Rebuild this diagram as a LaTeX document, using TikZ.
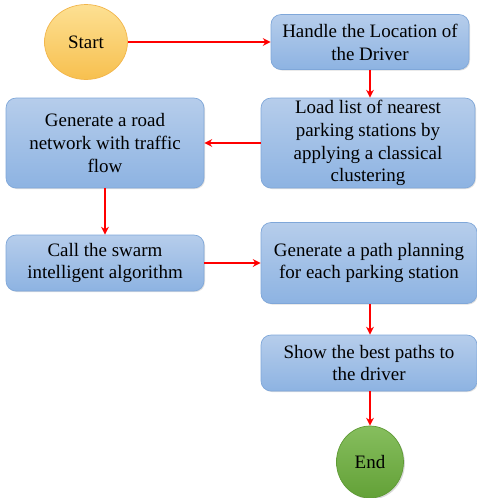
\documentclass[tikz,border=0pt]{standalone}
\usepackage{fontspec}
\setmainfont{Liberation Serif}
\usetikzlibrary{shapes,shadows,arrows.meta}

\definecolor{boxtop}{HTML}{B6CDEB}
\definecolor{boxbottom}{HTML}{8DB3E2}
\definecolor{boxline}{HTML}{7FA7D9}
\definecolor{starttop}{HTML}{FDE093}
\definecolor{startbottom}{HTML}{F7C04F}
\definecolor{startline}{HTML}{F2B54A}
\definecolor{endtop}{HTML}{86BE5E}
\definecolor{endbottom}{HTML}{63A137}
\definecolor{endline}{HTML}{5E9A34}

\tikzset{
	procbox/.style={draw=boxline, top color=boxtop, bottom color=boxbottom,
		rounded corners=0.2cm, align=center, inner sep=1pt,
		font=\fontsize{10.8}{13}\selectfont,
		drop shadow={shadow xshift=0.6pt, shadow yshift=-0.6pt, opacity=0.25}},
	flowarrow/.style={draw=red, line width=1.1pt, -{Stealth[length=4.5pt,width=4.5pt]}}
}

\begin{document}
\begin{tikzpicture}[x=0.02cm,y=-0.02cm]
					\useasboundingbox (0,0) rectangle (477,498);
					
					% terminals
					\node[ellipse, draw=startline, top color=starttop, bottom color=startbottom,
						minimum width=1.66cm, minimum height=1.5cm, font=\fontsize{10.8}{13}\selectfont] (start) at (86,42) {Start};
					\node[ellipse, draw=endline, top color=endtop, bottom color=endbottom,
						minimum width=1.34cm, minimum height=1.44cm, font=\fontsize{10.8}{13}\selectfont,
						drop shadow={shadow xshift=0.8pt, shadow yshift=-0.8pt, opacity=0.3}] (finish) at (370,462) {End};
					
					% steps
					\node[procbox, minimum width=3.96cm, minimum height=1.1cm] (handle) at (370,42)
						{Handle the Location of\\the Driver};
					\node[procbox, minimum width=4.28cm, minimum height=1.8cm] (load) at (368,143)
						{Load list of nearest\\parking stations by\\applying a classical\\clustering};
					\node[procbox, minimum width=3.96cm, minimum height=1.8cm] (road) at (105,143)
						{Generate a road\\network with traffic\\flow};
					\node[procbox, minimum width=3.96cm, minimum height=1.12cm] (swarm) at (105,263)
						{Call the swarm\\intelligent algorithm};
					\node[procbox, minimum width=4.32cm, minimum height=1.62cm] (plan) at (369,263)
						{Generate a path planning\\for each parking station};
					\node[procbox, minimum width=4.32cm, minimum height=1.12cm] (show) at (369,363)
						{Show the best paths to\\the driver};
					
					% arrows
					\draw[flowarrow] (start) -- (handle);
					\draw[flowarrow] (handle) -- (handle |- load.north);
					\draw[flowarrow] (load) -- (road);
					\draw[flowarrow] (road) -- (swarm);
					\draw[flowarrow] (swarm) -- (swarm -| plan.west);
					\draw[flowarrow] (plan.south -| finish) -- (show.north -| finish);
					\draw[flowarrow] (show.south -| finish) -- (finish);
				\end{tikzpicture}
\end{document}
